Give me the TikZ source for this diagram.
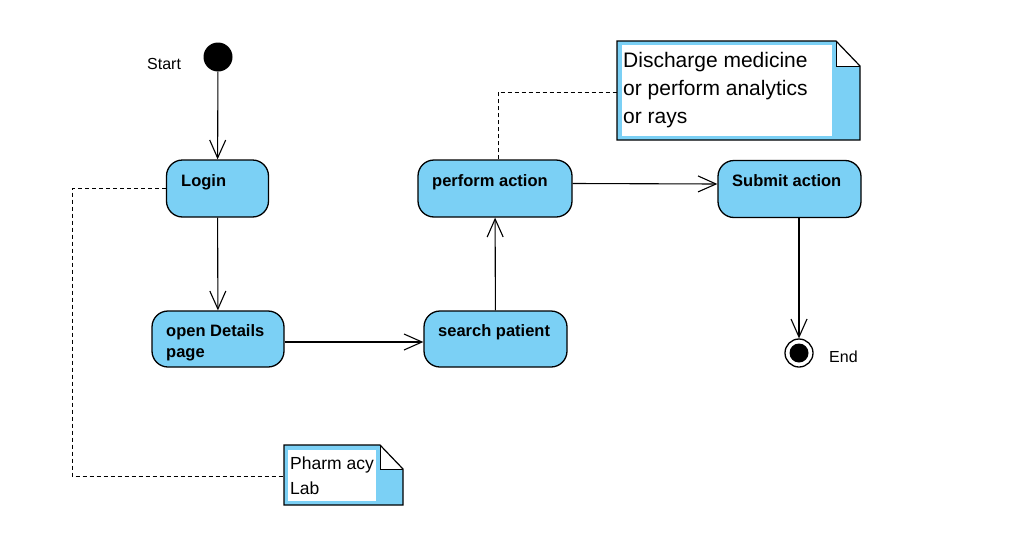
\documentclass[tikz,border=0pt]{standalone}
\usepackage{fontspec}
\setmainfont{Liberation Sans}
\usetikzlibrary{arrows.meta,calc}
\definecolor{stfill}{HTML}{7BD0F5}
\begin{document}
\begin{tikzpicture}[x=1pt,y=-1pt,
 statebox/.style={draw,line width=1.3pt,fill=stfill,rounded corners=16pt,inner sep=0pt},
 lbl/.style={font=\fontsize{16.5}{21}\selectfont\bfseries,anchor=base west,inner sep=0pt,align=left},
 flow/.style={line width=1.1pt,-{Straight Barb[length=18pt,width=16pt,line width=1.1pt]}},
 notelink/.style={line width=1pt,dash pattern=on 4pt off 3pt},
 plain/.style={font=\fontsize{16}{19}\selectfont,inner sep=0pt,anchor=base west},
 notetext/.style={inner sep=0pt,anchor=base west,align=left},
 noteedge/.style={line width=1.2pt,line join=miter}
]
\useasboundingbox (0,0) rectangle (1020,541);

% states
\node[statebox,minimum width=102pt,minimum height=57pt] (login) at (217.5,188.5) {};
\node[lbl] (loginT) at (181,186) {Login};
\node[statebox,minimum width=132pt,minimum height=56pt] (details) at (218,339) {};
\node[lbl] (detailsT) at (166,357) {open Details\\page};
\node[statebox,minimum width=143pt,minimum height=56pt] (search) at (495.5,339) {};
\node[lbl] (searchT) at (438,336) {search patient};
\node[statebox,minimum width=154pt,minimum height=57pt] (perform) at (495,188.5) {};
\node[lbl] (performT) at (432,186) {perform action};
\node[statebox,minimum width=143pt,minimum height=57pt] (submit) at (789.5,189) {};
\node[lbl] (submitT) at (732,186) {Submit action};

% start / end
\node[circle,fill=black,minimum size=29pt,inner sep=0pt] (start) at (218,57) {};
\node[plain] (startT) at (147,69) {Start};
\node[circle,draw,line width=1.3pt,fill=white,minimum size=28pt,inner sep=0pt] (end) at (799,353) {};
\node[circle,fill=black,minimum size=19pt,inner sep=0pt] (endDot) at (end) {};
\node[plain] (endT) at (829,362) {End};

% flows
\draw[flow] (start) -- (login);
\draw[flow] (login) -- (details);
\draw[flow] ([yshift=-3pt]details.east) -- ([yshift=-3pt]search.west);
\draw[flow] (search) -- (perform);
\draw[flow] ([yshift=5pt]perform.east) -- ([yshift=5pt]submit.west);
\draw[flow] (end |- submit.south) -- (end);

% note 1
\fill[stfill] (617,41) -- (836,41) -- (860,66) -- (860,140) -- (617,140) -- cycle;
\fill[white] (622,45) rectangle (832,136);
\fill[white] (836,41) -- (836,66) -- (860,66) -- cycle;
\draw[noteedge] (617,41) -- (836,41) -- (860,66) -- (860,140) -- (617,140) -- cycle;
\draw[line width=1pt] (836,41) -- (836,66) -- (860,66);
\node[notetext,font=\fontsize{21}{28.3}\selectfont] (note1) at (623,123.6) {Discharge medicine\\or perform analytics\\or rays};
\coordinate (n1link) at (617,92);

% note 2
\fill[stfill] (284,445) -- (380,445) -- (403,469) -- (403,505) -- (284,505) -- cycle;
\fill[white] (288,450) rectangle (376,501);
\fill[white] (380,445) -- (380,469) -- (403,469) -- cycle;
\draw[noteedge] (284,445) -- (380,445) -- (403,469) -- (403,505) -- (284,505) -- cycle;
\draw[line width=1pt] (380,445) -- (380,469) -- (403,469);
\node[notetext,font=\fontsize{17.5}{25}\selectfont] (note2) at (290,494) {Pharm acy\\Lab};
\coordinate (n2link) at (284,476);
\coordinate (n2bend) at (72,476);

% note links
\draw[notelink] ([xshift=3pt]perform.north) |- (n1link);
\draw[notelink] (login.west) -| (n2bend) -- (n2link);
\end{tikzpicture}
\end{document}
